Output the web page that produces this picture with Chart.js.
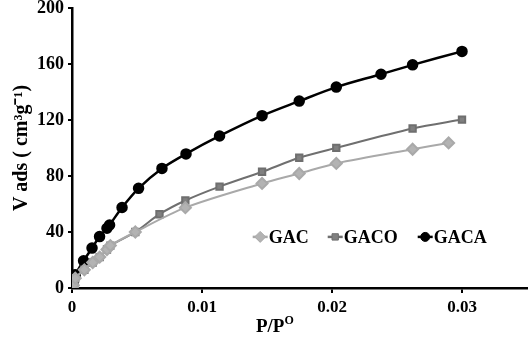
<!DOCTYPE html>
<html lang="en">
<head>
    <meta charset="UTF-8">
    <title>Adsorption isotherms</title>
    <script src="https://cdn.jsdelivr.net/npm/chart.js"></script>
    <style>
        body { margin: 0; background: white; }
        .wrap { width: 529px; height: 341px; }
    </style>
</head>
<body>
    <div class="wrap"><canvas id="isoChart" width="529" height="341"></canvas></div>
    <script>
        // values
        const gacX = [0.00003, 0.0001, 0.00025, 0.00095, 0.00159, 0.00213, 0.00269, 0.00295, 0.00487, 0.00872, 0.01462, 0.01748, 0.02033, 0.0262, 0.02897];
        const gacY = [0.5, 2, 7, 13, 18.2, 22.1, 27.5, 30.3, 40, 57.4, 74.7, 81.8, 89.0, 99.1, 103.6];

        const gacoX = [0.00003, 0.0001, 0.00025, 0.00095, 0.00159, 0.00213, 0.00269, 0.00295, 0.00487, 0.00673, 0.00872, 0.01135, 0.01462, 0.01748, 0.02033, 0.0262, 0.0300];
        const gacoY = [0.5, 2, 7, 13, 18.2, 22.1, 27.5, 30.3, 40, 52.7, 62.5, 72.4, 83, 93, 100.1, 113.9, 120.3];

        const gacaX = [0.00003, 0.00008, 0.00012, 0.00025, 0.00089, 0.00154, 0.00212, 0.00269, 0.00289, 0.00385, 0.00512, 0.00692, 0.00877, 0.01135, 0.01462, 0.01748, 0.02033, 0.02377, 0.0262, 0.0300];
        const gacaY = [0.8, 2.3, 5.9, 9.5, 19.4, 28.5, 36.7, 42.7, 45.0, 57.5, 71.2, 85.4, 95.8, 108.6, 123.1, 133.5, 143.5, 152.7, 159.4, 169.0];

        const xTicks = [0, 0.01, 0.02, 0.03];
        const yTicks = [0, 40, 80, 120, 160, 200];
        const seriesNames = ['GAC', 'GACO', 'GACA'];

        const serif = '"Liberation Serif", "Times New Roman", serif';

        function pts(xs, ys) {
            return xs.map((x, i) => ({ x: x, y: ys[i] }));
        }

        // legend sits inside the plot, so draw it by hand
        const insideLegend = {
            id: 'insideLegend',
            afterDraw(chart) {
                const ctx = chart.ctx;
                const ys = chart.scales.y;
                const xs = chart.scales.x;
                const cy = ys.getPixelForValue(36.5);
                let x = xs.getPixelForValue(0.0139);
                const gaps = [75, 90, 0];
                ctx.save();
                ctx.font = 'bold 18px ' + serif;
                ctx.textBaseline = 'middle';
                chart.data.datasets.forEach((ds, i) => {
                    ctx.strokeStyle = ds.borderColor;
                    ctx.lineWidth = 2.5;
                    ctx.beginPath();
                    ctx.moveTo(x, cy);
                    ctx.lineTo(x + 15, cy);
                    ctx.stroke();
                    ctx.fillStyle = ds.backgroundColor;
                    ctx.strokeStyle = ds.pointBorderColor;
                    ctx.lineWidth = 1;
                    Chart.helpers.drawPoint(ctx, {
                        pointStyle: ds.pointStyle,
                        radius: ds.pointRadius,
                        borderWidth: 1
                    }, x + 7.5, cy);
                    ctx.fillStyle = '#000';
                    ctx.textAlign = 'left';
                    ctx.fillText(ds.label, x + 16, cy + 1);
                    x += gaps[i];
                });
                ctx.restore();
            }
        };

        // x axis title sits a bit left of centre in the original
        const xTitle = {
            id: 'xTitle',
            afterDraw(chart) {
                const ctx = chart.ctx;
                const xs = chart.scales.x;
                const px = xs.getPixelForValue(0.0156);
                ctx.save();
                ctx.fillStyle = '#000';
                ctx.textBaseline = 'alphabetic';
                ctx.font = 'bold 19px ' + serif;
                const w1 = ctx.measureText('P/P').width;
                ctx.font = 'bold 12px ' + serif;
                const w2 = ctx.measureText('O').width;
                const left = px - (w1 + w2) / 2;
                ctx.font = 'bold 19px ' + serif;
                ctx.fillText('P/P', left, 332);
                ctx.font = 'bold 12px ' + serif;
                ctx.fillText('O', left + w1, 324);
                ctx.restore();
            }
        };

        new Chart(document.getElementById('isoChart'), {
            type: 'scatter',
            data: {
                datasets: [
                    {
                        label: seriesNames[0],
                        data: pts(gacX, gacY),
                        showLine: true,
                        borderColor: '#a9a9a9',
                        backgroundColor: '#b3b3b3',
                        pointBorderColor: '#a9a9a9',
                        borderWidth: 2,
                        pointStyle: 'rectRot',
                        pointRadius: 5.5,
                        tension: 0.3
                    },
                    {
                        label: seriesNames[1],
                        data: pts(gacoX, gacoY),
                        showLine: true,
                        borderColor: '#6f6f6f',
                        backgroundColor: '#808080',
                        pointBorderColor: '#6f6f6f',
                        borderWidth: 2,
                        pointStyle: 'rect',
                        pointRadius: 4.5,
                        tension: 0.3
                    },
                    {
                        label: seriesNames[2],
                        data: pts(gacaX, gacaY),
                        showLine: true,
                        borderColor: '#000000',
                        backgroundColor: '#000000',
                        pointBorderColor: '#000000',
                        borderWidth: 2.5,
                        pointStyle: 'circle',
                        pointRadius: 4.5,
                        tension: 0.3
                    }
                ]
            },
            options: {
                responsive: false,
                animation: false,
                layout: { autoPadding: false, padding: { top: 0, right: 2, left: 10, bottom: 0 } },
                plugins: {
                    legend: { display: false },
                    tooltip: { enabled: false }
                },
                scales: {
                    x: {
                        type: 'linear',
                        min: 0,
                        max: 0.035,
                        afterBuildTicks: s => { s.ticks = xTicks.map(v => ({ value: v })); },
                        afterFit: s => { s.height = 53; s.paddingRight = 0; },
                        border: { color: '#000', width: 2.5 },
                        grid: { drawOnChartArea: false, color: '#000', lineWidth: 2, tickLength: 5 },
                        ticks: {
                            color: '#000',
                            padding: 4,
                            maxRotation: 0,
                            font: { family: serif, size: 17, weight: 'bold' },
                            callback: v => String(v)
                        }
                    },
                    y: {
                        min: 0,
                        max: 200,
                        afterBuildTicks: s => { s.ticks = yTicks.map(v => ({ value: v })); },
                        afterFit: s => { s.width = 62; s.paddingTop = 8; },
                        border: { color: '#000', width: 2.5 },
                        grid: { drawOnChartArea: false, color: '#000', lineWidth: 2, tickLength: 4 },
                        title: {
                            display: true,
                            text: 'V ads ( cm³g⁻¹)',
                            color: '#000',
                            padding: { top: 0, bottom: 4 },
                            font: { family: serif, size: 20, weight: 'bold' }
                        },
                        ticks: {
                            color: '#000',
                            padding: 4,
                            font: { family: serif, size: 18, weight: 'bold' }
                        }
                    }
                }
            },
            plugins: [insideLegend, xTitle]
        });
    </script>
</body>
</html>
